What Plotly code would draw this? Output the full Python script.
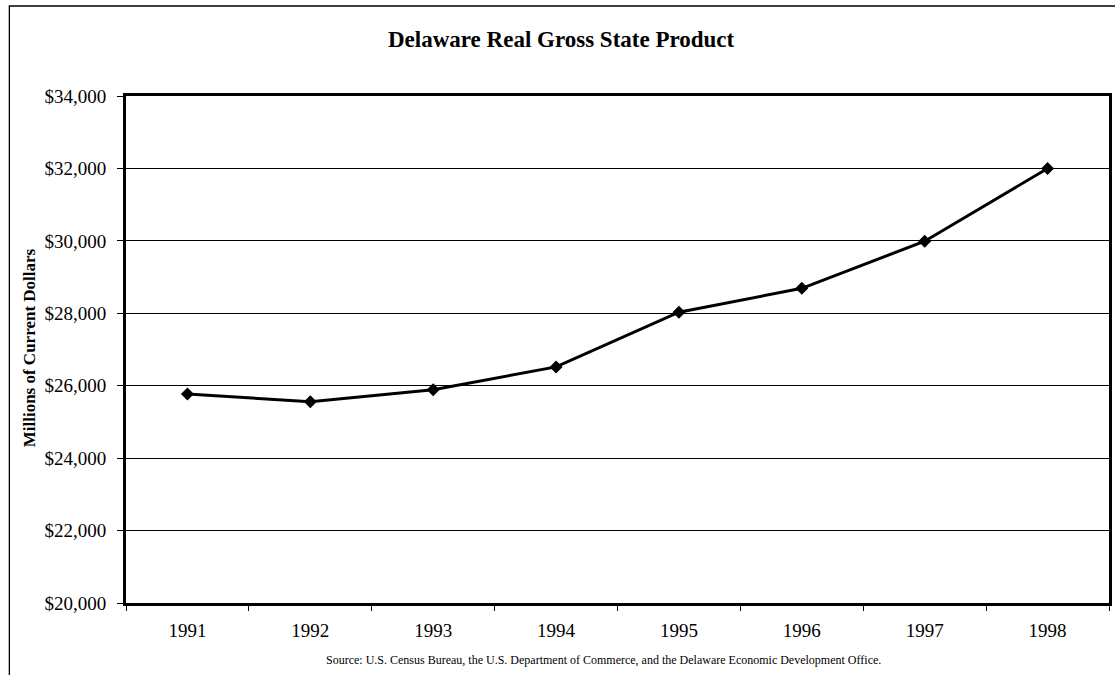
import plotly.graph_objects as go

# Delaware real gross state product, millions of current dollars
years = ["1991", "1992", "1993", "1994", "1995", "1996", "1997", "1998"]
gsp = [25770, 25560, 25890, 26520, 28030, 28690, 29990, 32000]

y_ticks = [20000, 22000, 24000, 26000, 28000, 30000, 32000, 34000]
y_tick_text = ["$20,000", "$22,000", "$24,000", "$26,000", "$28,000", "$30,000", "$32,000", "$34,000"]

title_text = "Delaware Real Gross State Product"
y_title = "Millions of Current Dollars"
source_text = ("Source: U.S. Census Bureau, the U.S. Department of Commerce, "
               "and the Delaware Economic Development Office.")

W, H = 1115, 675
L, R, T, B = 126, 3, 96, 72
pw, ph = W - L - R, H - T - B


def px_x(x):
    return (x - L) / pw


def px_y(y):
    return (H - B - y) / ph


serif = "Liberation Serif, Times New Roman, serif"

fig = go.Figure()
fig.add_trace(go.Scatter(
    x=years, y=gsp, mode="lines+markers",
    line=dict(color="black", width=3),
    marker=dict(symbol="diamond", size=10, color="black"),
    showlegend=False, hoverinfo="x+y",
))

fig.update_layout(
    width=W, height=H,
    margin=dict(l=L, r=R, t=T, b=B),
    paper_bgcolor="white", plot_bgcolor="white",
    font=dict(family=serif, color="black"),
    xaxis=dict(
        type="category", range=[-0.5, 7.5],
        showline=True, linecolor="black", linewidth=3, mirror=True,
        showgrid=False, zeroline=False,
        ticks="outside", ticklen=5, tickwidth=1, tickcolor="black",
        tickson="boundaries", ticklabelstandoff=8,
        tickfont=dict(family=serif, size=19, color="black"),
    ),
    yaxis=dict(
        range=[20000, 34000], tickvals=y_ticks, ticktext=y_tick_text,
        showline=True, linecolor="black", linewidth=3, mirror=True,
        showgrid=True, gridcolor="black", gridwidth=1, zeroline=False,
        ticks="outside", ticklen=6, tickwidth=1, tickcolor="black",
        ticklabelstandoff=7,
        tickfont=dict(family=serif, size=19, color="black"),
    ),
    annotations=[
        dict(text=f"<b>{title_text}</b>", xref="paper", yref="paper",
             x=px_x(563), y=px_y(39), xanchor="center", yanchor="middle",
             showarrow=False, font=dict(family=serif, size=23, color="black")),
        dict(text=f"<b>{y_title}</b>", xref="paper", yref="paper",
             x=px_x(29), y=px_y(348), xanchor="center", yanchor="middle",
             textangle=-90, showarrow=False,
             font=dict(family=serif, size=17, color="black")),
        dict(text=source_text, xref="paper", yref="paper",
             x=px_x(605), y=px_y(660), xanchor="center", yanchor="middle",
             showarrow=False, font=dict(family=serif, size=12, color="black")),
    ],
    shapes=[
        # outer chart frame
        dict(type="rect", xref="paper", yref="paper",
             x0=px_x(9), x1=px_x(1125), y0=px_y(6), y1=px_y(700),
             line=dict(color="black", width=1.3), layer="below"),
    ],
)

fig.write_html("out.html")
